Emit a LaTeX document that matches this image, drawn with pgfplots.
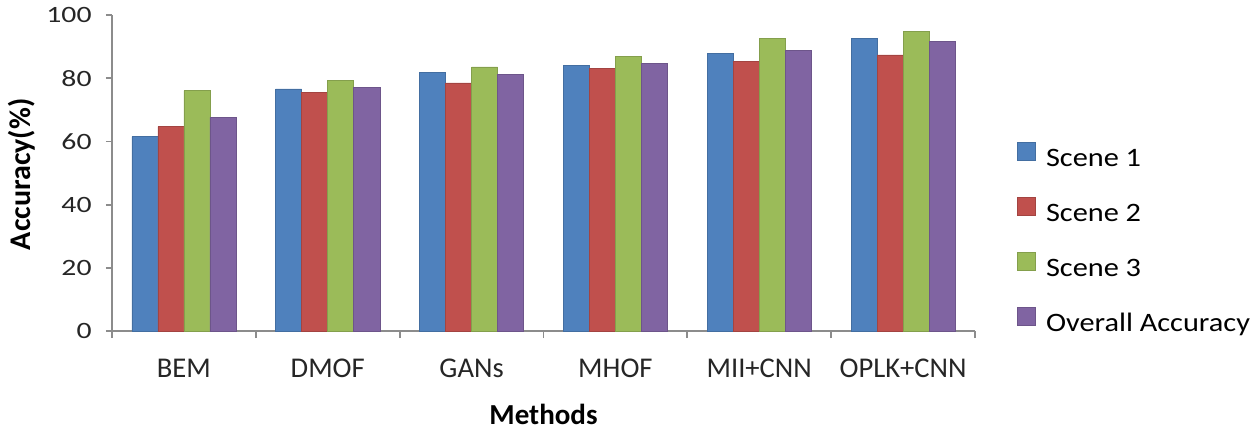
\documentclass[border=0pt]{standalone}
\usepackage{pgfplots}
\pgfplotsset{compat=1.18}
\usepackage{fontspec}
\setmainfont{Carlito}
\newfontfamily\ytf[FakeStretch=1.27]{Carlito}
\newfontfamily\lgf[FakeStretch=1.14]{Carlito}
\definecolor{c1}{HTML}{4F81BD}
\definecolor{c2}{HTML}{C0504D}
\definecolor{c3}{HTML}{9BBB59}
\definecolor{c4}{HTML}{8064A2}
\definecolor{axgray}{HTML}{8C8C8C}
\begin{document}
\begin{tikzpicture}
\begin{axis}[
  scale only axis, width=431.5pt, height=158pt,
  xmin=-0.5, xmax=5.5, ymin=0, ymax=100,
  ytick={0,20,...,100},
  xtick={0,...,5},
  xticklabels={BEM,DMOF,GANs,MHOF,MII+CNN,OPLK+CNN},
  minor xtick={-0.5,0.5,...,5.5},
  axis x line*=bottom, axis y line*=left,
  axis line style={axgray, line width=0.9pt},
  every tick/.style={axgray, line width=0.9pt},
  major x tick style={draw=none},
  tick align=outside, major tick length=3pt, minor tick length=3.5pt,
  /pgf/number format/assume math mode=true,
  tick label style={color=black!85, inner sep=0pt},
  yticklabel style={font=\ytf\fontsize{11.7}{13}\selectfont, anchor=east, xshift=-7pt},
  xticklabel style={font=\fontsize{14.3}{16}\selectfont, anchor=base, yshift=-20pt},
  ylabel={\textbf{Accuracy(\%)}},
  xlabel={\textbf{Methods}},
  ylabel style={font=\fontsize{15}{17}\selectfont, at={(axis description cs:-0.095,0.496)}, anchor=base},
  xlabel style={font=\fontsize{14.5}{17}\selectfont, at={(axis description cs:0.5,0)}, anchor=base, yshift=-46.8pt},
  ybar, bar width=0.181,
  legend style={draw=none, at={(1.0487,0.598)}, anchor=north west, inner sep=0pt,
    font=\lgf\fontsize{13.3}{15}\selectfont, row sep=12.5pt,
    nodes={inner sep=0pt, text height=9pt, text depth=3pt},
    /tikz/every odd column/.append style={column sep=5pt}},
  legend cell align=left,
  every axis plot post/.append style={legend image code/.code={\fill[##1] (0pt,-0.2pt) rectangle (9pt,8.8pt);}},
]
\addplot[fill=c1, draw=c1!85!black, line width=0.3pt, bar shift=-0.2715] coordinates {(0,61.5) (1,76.6) (2,81.8) (3,84.1) (4,87.9) (5,92.5)};
\addplot[fill=c2, draw=c2!85!black, line width=0.3pt, bar shift=-0.0905] coordinates {(0,64.7) (1,75.6) (2,78.5) (3,83.1) (4,85.4) (5,87.4)};
\addplot[fill=c3, draw=c3!85!black, line width=0.3pt, bar shift=0.0905] coordinates {(0,76.1) (1,79.3) (2,83.6) (3,86.8) (4,92.5) (5,94.8)};
\addplot[fill=c4, draw=c4!85!black, line width=0.3pt, bar shift=0.2715] coordinates {(0,67.6) (1,77.0) (2,81.3) (3,84.6) (4,88.8) (5,91.7)};
\legend{Scene 1,Scene 2,Scene 3,Overall Accuracy}
\end{axis}
\pgfresetboundingbox
\path ([xshift=-56pt,yshift=-49.15pt]current axis.south west) rectangle ++(627.5pt,214.65pt);
\end{tikzpicture}
\end{document}
